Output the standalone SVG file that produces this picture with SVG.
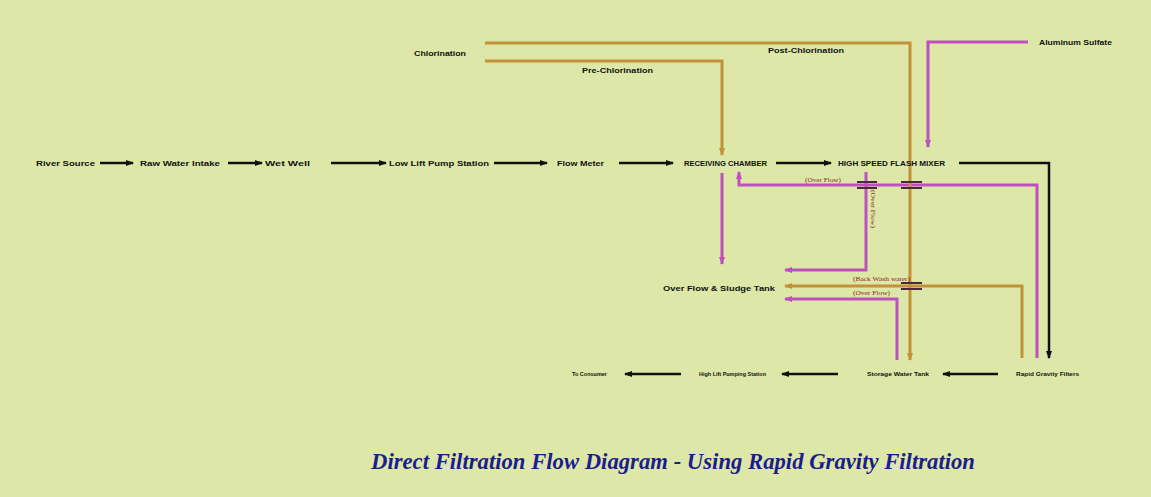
<svg xmlns="http://www.w3.org/2000/svg" width="1151" height="497" viewBox="0 0 1151 497">
<style>
.lbl{font-family:"Liberation Sans","DejaVu Sans",sans-serif;font-weight:bold;font-size:8px;fill:#111}
.sm{font-family:"Liberation Sans","DejaVu Sans",sans-serif;font-weight:bold;font-size:5.5px;fill:#111}
.note{font-family:"Liberation Serif","DejaVu Serif",serif;font-size:7px;fill:#8b1f1f}
.title{font-family:"Liberation Serif","DejaVu Serif",serif;font-weight:bold;font-style:italic;font-size:23px;fill:#1c1c8c}
.blk{fill:none;stroke:#111;stroke-width:2.5}
.org{fill:none;stroke:#c39139;stroke-width:3}
.mag{fill:none;stroke:#c04fbf;stroke-width:3}
.brg{stroke:#4a2a3a;stroke-width:2}
</style>
<defs>
<marker id="ab" markerUnits="userSpaceOnUse" markerWidth="8" markerHeight="6" refX="7" refY="3" orient="auto"><path d="M0,0 L8,3 L0,6 z" fill="#111"/></marker>
<marker id="ao" markerUnits="userSpaceOnUse" markerWidth="8" markerHeight="6" refX="7" refY="3" orient="auto"><path d="M0,0 L8,3 L0,6 z" fill="#c39139"/></marker>
<marker id="am" markerUnits="userSpaceOnUse" markerWidth="8" markerHeight="6" refX="7" refY="3" orient="auto"><path d="M0,0 L8,3 L0,6 z" fill="#c04fbf"/></marker>
</defs>
<rect width="1151" height="497" fill="#dde8a8"/>
<g id="connectors">
<path class="blk" marker-end="url(#ab)" d="M100,163 H133"/>
<path class="blk" marker-end="url(#ab)" d="M228,163 H262"/>
<path class="blk" marker-end="url(#ab)" d="M331,163 H386"/>
<path class="blk" marker-end="url(#ab)" d="M494,163 H547"/>
<path class="blk" marker-end="url(#ab)" d="M619,163 H673"/>
<path class="blk" marker-end="url(#ab)" d="M776,163 H831"/>
<path class="blk" marker-end="url(#ab)" d="M959,163 H1049 V358"/>
<path class="blk" marker-end="url(#ab)" d="M998,374 H943"/>
<path class="blk" marker-end="url(#ab)" d="M838,374 H782"/>
<path class="blk" marker-end="url(#ab)" d="M681,374 H625"/>
<path class="org" marker-end="url(#ao)" d="M485,61 H722 V155"/>
<path class="mag" marker-end="url(#am)" d="M1028,42 H928 V147"/>
<path class="mag" marker-end="url(#am)" d="M722,173 V264"/>
<path class="mag" marker-end="url(#am)" d="M1037,358 V185 H739 V172"/>
<path class="mag" marker-end="url(#am)" d="M866,172 V270 H785"/>
<path class="org" marker-end="url(#ao)" d="M1022,358 V286 H785"/>
<path class="mag" marker-end="url(#am)" d="M897,360 V299 H785"/>
<path class="org" marker-end="url(#ao)" d="M485,43 H910 V360"/>
<g id="bridges">
<line class="brg" x1="857" y1="182" x2="877" y2="182"/><line class="brg" x1="857" y1="188" x2="877" y2="188"/>
<line class="brg" x1="901" y1="182" x2="922" y2="182"/><line class="brg" x1="901" y1="188" x2="922" y2="188"/>
<line class="brg" x1="901" y1="283" x2="922" y2="283"/><line class="brg" x1="901" y1="289" x2="922" y2="289"/>
</g>
<text class="note" x="805" y="182" textLength="36" lengthAdjust="spacingAndGlyphs">(Over Flow)</text>
<text class="note" transform="translate(871,190) rotate(90)" textLength="38" lengthAdjust="spacingAndGlyphs">(Over Flow)</text>
<text class="note" x="853" y="281" textLength="57" lengthAdjust="spacingAndGlyphs">(Back Wash water)</text>
<text class="note" x="853" y="295" textLength="37" lengthAdjust="spacingAndGlyphs">(Over Flow)</text>
</g>
<g id="chlorination"><text class="lbl" x="414" y="56" textLength="52" lengthAdjust="spacingAndGlyphs">Chlorination</text></g>
<g id="pre-chlorination"><text class="lbl" x="582" y="73" textLength="71" lengthAdjust="spacingAndGlyphs">Pre-Chlorination</text></g>
<g id="post-chlorination"><text class="lbl" x="768" y="53" textLength="76" lengthAdjust="spacingAndGlyphs">Post-Chlorination</text></g>
<g id="aluminum-sulfate"><text class="lbl" x="1039" y="45" textLength="73" lengthAdjust="spacingAndGlyphs">Aluminum Sulfate</text></g>
<g id="river-source"><text class="lbl" x="36" y="166" textLength="59" lengthAdjust="spacingAndGlyphs">River Source</text></g>
<g id="raw-water-intake"><text class="lbl" x="140" y="166" textLength="80" lengthAdjust="spacingAndGlyphs">Raw Water Intake</text></g>
<g id="wet-well"><text class="lbl" x="265" y="166" textLength="45" lengthAdjust="spacingAndGlyphs">Wet Well</text></g>
<g id="low-lift"><text class="lbl" x="389" y="166" textLength="100" lengthAdjust="spacingAndGlyphs">Low Lift Pump Station</text></g>
<g id="flow-meter"><text class="lbl" x="557" y="166" textLength="47" lengthAdjust="spacingAndGlyphs">Flow Meter</text></g>
<g id="receiving-chamber"><text class="lbl" x="684" y="166" textLength="83" lengthAdjust="spacingAndGlyphs">RECEIVING CHAMBER</text></g>
<g id="flash-mixer"><text class="lbl" x="838" y="166" textLength="107" lengthAdjust="spacingAndGlyphs">HIGH SPEED FLASH MIXER</text></g>
<g id="sludge-tank"><text class="lbl" x="663" y="291" textLength="112" lengthAdjust="spacingAndGlyphs">Over Flow &amp; Sludge Tank</text></g>
<g id="to-consumer"><text class="sm" x="572" y="376" textLength="35" lengthAdjust="spacingAndGlyphs">To Consumer</text></g>
<g id="high-lift"><text class="sm" x="699" y="376" textLength="67" lengthAdjust="spacingAndGlyphs">High Lift Pumping Station</text></g>
<g id="storage-tank"><text class="sm" x="867" y="376" textLength="62" lengthAdjust="spacingAndGlyphs">Storage Water Tank</text></g>
<g id="rapid-filters"><text class="sm" x="1016" y="376" textLength="63" lengthAdjust="spacingAndGlyphs">Rapid Gravity Filters</text></g>
<g id="title"><text class="title" x="371" y="469" textLength="604" lengthAdjust="spacingAndGlyphs">Direct Filtration Flow Diagram - Using Rapid Gravity Filtration</text></g>
</svg>
